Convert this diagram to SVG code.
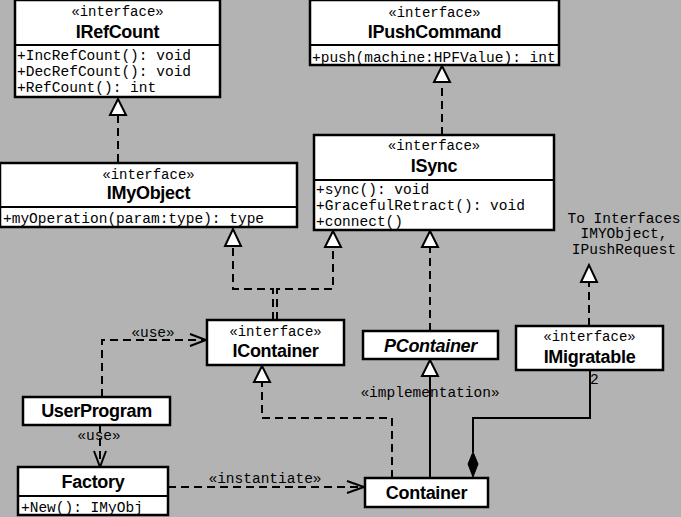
<svg xmlns="http://www.w3.org/2000/svg" width="681" height="517" viewBox="0 0 681 517">
<style>
.box{fill:#fff;stroke:#000;stroke-width:2.5}
.div{stroke:#000;stroke-width:2}
.mono{font-family:"Liberation Mono","DejaVu Sans Mono",monospace;font-size:14.5px;fill:#000}
.ster{font-size:14px}
.ctr{text-anchor:middle}
.title{font-family:"Liberation Sans",Arial,sans-serif;font-weight:bold;font-size:18px;text-anchor:middle;fill:#000;letter-spacing:-0.3px}
.dash{fill:none;stroke:#000;stroke-width:2;stroke-dasharray:8 5}
.solid{fill:none;stroke:#000;stroke-width:2}
.tri{fill:#fff;stroke:#000;stroke-width:2}
.open{fill:none;stroke:#000;stroke-width:2}
</style>
<rect x="0" y="0" width="681" height="517" fill="#b3b3b3"/>

<g id="connectors">
  <!-- IMyObject -> IRefCount -->
  <path class="dash" d="M118,162 V115"/>
  <polygon class="tri" points="118,99 110,115 126,115"/>
  <!-- ISync -> IPushCommand -->
  <path class="dash" d="M442,135 V82"/>
  <polygon class="tri" points="442,66 434,82 450,82"/>
  <!-- IContainer -> IMyObject -->
  <path class="dash" d="M273,320 V289 H233 V246"/>
  <polygon class="tri" points="233,229 225,246 241,246"/>
  <!-- IContainer -> ISync -->
  <path class="dash" d="M277,320 V289 H333 V247"/>
  <polygon class="tri" points="333,231 325,247 341,247"/>
  <!-- PContainer -> ISync -->
  <path class="dash" d="M430,331 V247"/>
  <polygon class="tri" points="430,231 422,247 438,247"/>
  <!-- Container -> PContainer (implementation) -->
  <path class="solid" d="M430,478 V376"/>
  <polygon class="tri" points="430,360 422,376 438,376"/>
  <!-- Container -> IContainer -->
  <path class="dash" d="M392,478 V418 H262 V382"/>
  <polygon class="tri" points="262,366 254,382 270,382"/>
  <!-- Composition Container - IMigratable -->
  <path class="solid" d="M473,452 V418 H590 V371"/>
  <polygon points="473,452 478,464 473,477 468,464" fill="#000" stroke="#000" stroke-width="1"/>
  <!-- IMigratable -> To Interfaces -->
  <path class="dash" d="M589,326 V282"/>
  <polygon class="tri" points="589,265 581,282 597,282"/>
  <!-- UserProgram -> IContainer (use) -->
  <path class="dash" d="M102,397 V340 H204"/>
  <polyline class="open" points="190,334 206,340 190,346"/>
  <!-- UserProgram -> Factory (use) -->
  <path class="dash" d="M100,425 V465"/>
  <polyline class="open" points="94,451 100,467 106,451"/>
  <!-- Factory -> Container (instantiate) -->
  <path class="dash" d="M168,487 H363"/>
  <polyline class="open" points="347,481 364,487 347,493"/>
  <text class="mono ctr" x="153" y="337">«use»</text>
  <text class="mono ctr" x="99" y="440">«use»</text>
  <text class="mono ctr" x="265" y="483">«instantiate»</text>
  <text class="mono ctr" x="430" y="397">«implementation»</text>
  <text class="mono" x="590" y="384" font-size="12">2</text>
  <text class="mono ctr" x="624" y="223">To Interfaces</text>
  <text class="mono ctr" x="624" y="238">IMYObject,</text>
  <text class="mono ctr" x="624" y="254">IPushRequest</text>
</g>

<g id="IRefCount">
  <rect class="box" x="15" y="0" width="205" height="97"/>
  <line class="div" x1="15" y1="45" x2="220" y2="45"/>
  <text class="mono ster ctr" x="117.5" y="16">«interface»</text>
  <text class="title" x="117.5" y="38">IRefCount</text>
  <text class="mono" x="17" y="60">+IncRefCount(): void</text>
  <text class="mono" x="17" y="76">+DecRefCount(): void</text>
  <text class="mono" x="17" y="92">+RefCount(): int</text>
</g>

<g id="IPushCommand">
  <rect class="box" x="310" y="0" width="249" height="65"/>
  <line class="div" x1="310" y1="45" x2="559" y2="45"/>
  <text class="mono ster ctr" x="434.5" y="17">«interface»</text>
  <text class="title" x="434.5" y="38">IPushCommand</text>
  <text class="mono" x="312" y="62">+push(machine:HPFValue): int</text>
</g>

<g id="IMyObject">
  <rect class="box" x="0" y="163" width="297" height="64"/>
  <line class="div" x1="0" y1="207" x2="297" y2="207"/>
  <text class="mono ster ctr" x="148.5" y="179">«interface»</text>
  <text class="title" x="148.5" y="199">IMyObject</text>
  <text class="mono" x="3" y="223">+myOperation(param:type): type</text>
</g>

<g id="ISync">
  <rect class="box" x="314" y="135" width="240" height="95"/>
  <line class="div" x1="314" y1="180" x2="554" y2="180"/>
  <text class="mono ster ctr" x="434" y="150">«interface»</text>
  <text class="title" x="434" y="172">ISync</text>
  <text class="mono" x="316" y="194">+sync(): void</text>
  <text class="mono" x="316" y="210">+GracefulRetract(): void</text>
  <text class="mono" x="316" y="226">+connect()</text>
</g>

<g id="IContainer">
  <rect class="box" x="207" y="320" width="137" height="45"/>
  <text class="mono ster ctr" x="275.5" y="336">«interface»</text>
  <text class="title" x="275.5" y="357">IContainer</text>
</g>

<g id="PContainer">
  <rect class="box" x="363" y="331" width="135" height="28"/>
  <text class="title" x="430.5" y="352" font-style="italic">PContainer</text>
</g>

<g id="IMigratable">
  <rect class="box" x="516" y="326" width="147" height="44"/>
  <text class="mono ster ctr" x="589.5" y="341">«interface»</text>
  <text class="title" x="589.5" y="363">IMigratable</text>
</g>

<g id="UserProgram">
  <rect class="box" x="23" y="397" width="147" height="28"/>
  <text class="title" x="96.5" y="417">UserProgram</text>
</g>

<g id="Factory">
  <rect class="box" x="18" y="467" width="150" height="48"/>
  <line class="div" x1="18" y1="496" x2="168" y2="496"/>
  <text class="title" x="93" y="488">Factory</text>
  <text class="mono" x="21" y="512">+New(): IMyObj</text>
</g>

<g id="Container">
  <rect class="box" x="365" y="478" width="123" height="29"/>
  <text class="title" x="426.5" y="499">Container</text>
</g>
</svg>
